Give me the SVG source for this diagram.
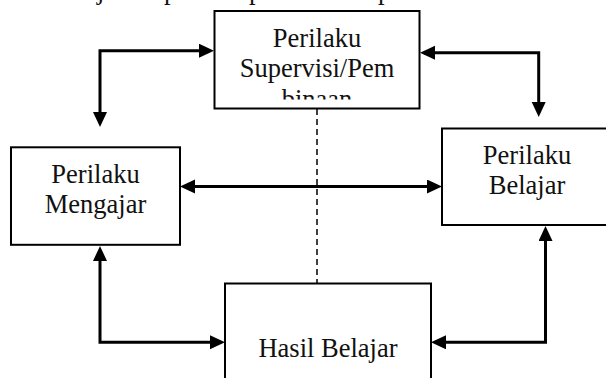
<svg xmlns="http://www.w3.org/2000/svg" width="606" height="378" viewBox="0 0 606 378">
  <style>
    .box { fill: #ffffff; stroke: #000000; stroke-width: 2; }
    .lbl { font-family: "Liberation Serif", "Times New Roman", serif; font-size: 26.5px; fill: #111111; text-anchor: middle; }
    .frag { font-family: "Liberation Serif", "Times New Roman", serif; font-size: 26.5px; fill: #111111; }
    .conn { fill: none; stroke: #000000; stroke-width: 3; }
    .dash { fill: none; stroke: #000000; stroke-width: 1.5; stroke-dasharray: 6 4; }
  </style>
  <defs>
    <marker id="arr" markerUnits="userSpaceOnUse" markerWidth="16" markerHeight="15" refX="11" refY="7" orient="auto-start-reverse">
      <path d="M0,0 L15,7 L0,14 z" fill="#000000"/>
    </marker>
    <clipPath id="clipTop">
      <rect x="215" y="12" width="204" height="87.5"/>
    </clipPath>
  </defs>
  <rect width="606" height="378" fill="#ffffff"/>

  <g id="fragment-line">
    <text class="frag" x="97" y="-1.5">j</text>
    <text class="frag" x="164" y="-1.5">p</text>
    <text class="frag" x="249" y="-1.5">p</text>
    <text class="frag" x="378" y="-1.5">p</text>
  </g>

  <g id="connectors">
    <line class="dash" x1="317" y1="109" x2="317" y2="283"/>
    <path class="conn" d="M100,123 V50.7 H210" marker-start="url(#arr)" marker-end="url(#arr)"/>
    <path class="conn" d="M424,52.7 H538.7 V113" marker-start="url(#arr)" marker-end="url(#arr)"/>
    <path class="conn" d="M184,186.5 H438" marker-start="url(#arr)" marker-end="url(#arr)"/>
    <path class="conn" d="M100,250 V342.3 H221" marker-start="url(#arr)" marker-end="url(#arr)"/>
    <path class="conn" d="M545.5,230 V342.3 H435" marker-start="url(#arr)" marker-end="url(#arr)"/>
  </g>

  <g id="node-supervisi">
    <rect class="box" x="214.5" y="11" width="205" height="97.5"/>
    <g clip-path="url(#clipTop)">
      <text class="lbl" x="317" y="46.7">Perilaku</text>
      <text class="lbl" x="317" y="77.3">Supervisi/Pem</text>
      <text class="lbl" x="317" y="108">binaan</text>
    </g>
  </g>

  <g id="node-mengajar">
    <rect class="box" x="11" y="147.3" width="169" height="97.5"/>
    <text class="lbl" x="95.5" y="183">Perilaku</text>
    <text class="lbl" x="95.5" y="213.3">Mengajar</text>
  </g>

  <g id="node-belajar">
    <rect class="box" x="442" y="128.5" width="180" height="96.5"/>
    <text class="lbl" x="527" y="163.5">Perilaku</text>
    <text class="lbl" x="527" y="194">Belajar</text>
  </g>

  <g id="node-hasil">
    <rect class="box" x="225" y="283.5" width="206" height="110"/>
    <text class="lbl" x="328" y="357">Hasil Belajar</text>
  </g>
</svg>
